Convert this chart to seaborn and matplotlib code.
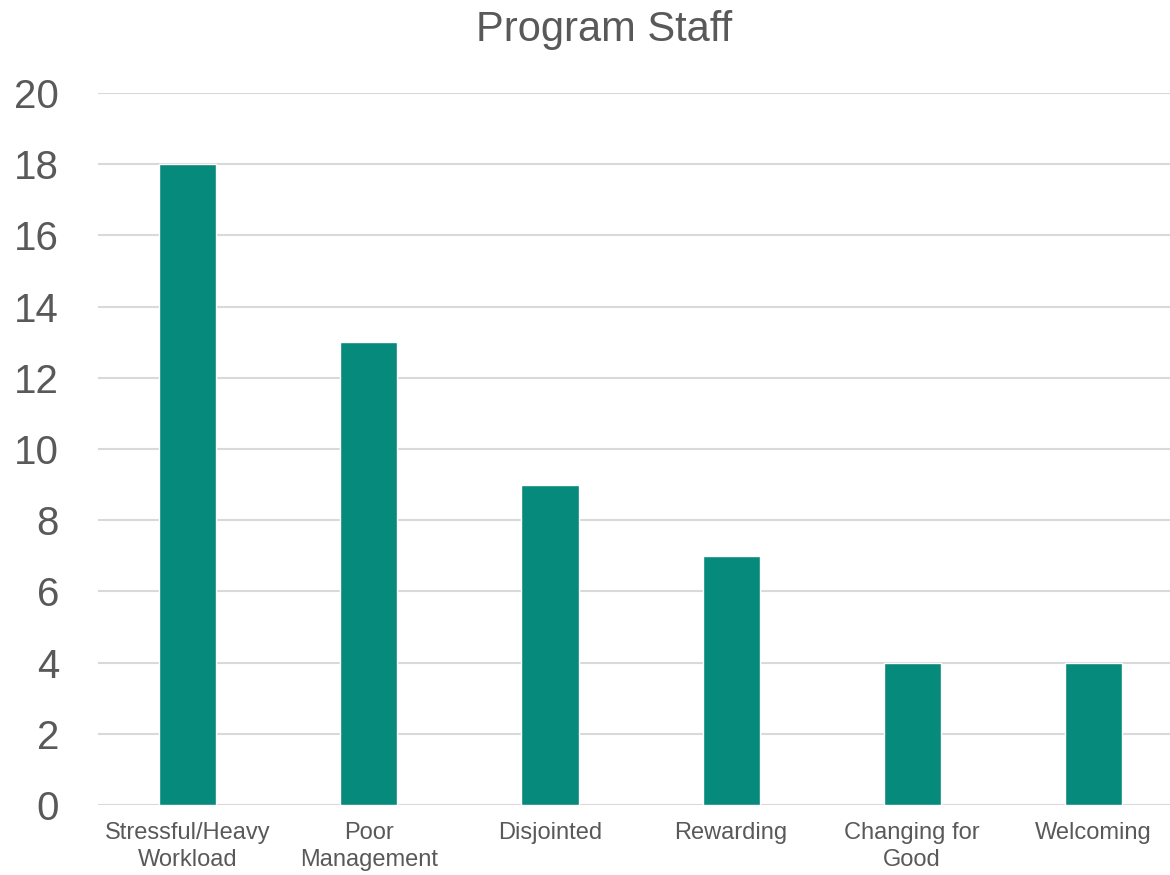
import matplotlib
matplotlib.use("Agg")
import matplotlib.pyplot as plt
import seaborn as sns

categories = ["Stressful/Heavy\nWorkload", "Poor\nManagement", "Disjointed",
              "Rewarding", "Changing for\nGood", "Welcoming"]
values = [18, 13, 9, 7, 4, 4]
yticks = [0, 2, 4, 6, 8, 10, 12, 14, 16, 18, 20]
title = "Program Staff"

sns.set_theme(style="white")
plt.rcParams['font.family'] = ['Liberation Sans', 'DejaVu Sans']

text_color = "#595959"
bar_color = "#068A7C"
grid_color = "#D9D9D9"

fig = plt.figure(figsize=(11.7, 8.75), dpi=100)
ax = fig.add_axes([98 / 1170, 1 - 805 / 875, (1170 - 98) / 1170, (805 - 93) / 875])

sns.barplot(x=categories, y=values, color=bar_color, width=0.315, ax=ax,
            saturation=1, zorder=3)

ax.set_xlim(-0.497, 5.425)
ax.set_ylim(0, 20)
ax.set_yticks(yticks)
ax.set_yticklabels([str(t) for t in yticks], fontsize=29, color=text_color)
ax.tick_params(axis="y", length=0, pad=28)
ax.tick_params(axis="x", length=0, pad=12, labelsize=17, labelcolor=text_color)
for lbl in ax.get_xticklabels():
    lbl.set_linespacing(1.3)

ax.yaxis.grid(True, color=grid_color, linewidth=1.5, zorder=0)
ax.set_axisbelow(True)
for s in ax.spines.values():
    s.set_visible(False)
ax.set_xlabel("")
ax.set_ylabel("")

fig.text(604 / 1170, 1 - 30 / 875, title, ha="center", va="center",
         fontsize=30, color=text_color)

fig.savefig("out.png", dpi=100, facecolor="white")
